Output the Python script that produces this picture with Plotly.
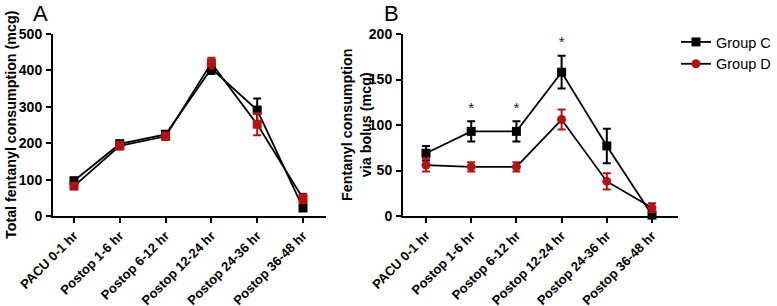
import plotly.graph_objects as go

categories = ["PACU 0-1 hr", "Postop 1-6 hr", "Postop 6-12 hr", "Postop 12-24 hr", "Postop 24-36 hr", "Postop 36-48 hr"]

# Panel A: total fentanyl consumption (mcg)
a_c_mean = [97, 198, 224, 405, 291, 22]
a_c_err = [6, 10, 10, 15, 32, 5]
a_d_mean = [82, 193, 219, 420, 252, 48]
a_d_err = [6, 10, 10, 15, 30, 13]

# Panel B: fentanyl consumption via bolus (mcg)
b_c_mean = [69, 93, 93, 158, 77, 1]
b_c_err = [8, 11, 11, 18, 19, 2]
b_d_mean = [56, 54, 54, 106, 38, 9]
b_d_err = [7, 5, 5, 11, 9, 5]

star_x = [1, 2, 3]
star_y = [117, 117, 190]

a_yticks = [0, 100, 200, 300, 400, 500]
b_yticks = [0, 50, 100, 150, 200]

BLACK = "#000000"
RED = "#b21414"
FONT = "Liberation Sans, Arial, sans-serif"
xs = list(range(len(categories)))

fig = go.Figure()

def add(xa, ya, y, err, color, symbol, name, show):
    fig.add_trace(go.Scatter(
        x=xs, y=y, xaxis=xa, yaxis=ya, mode="lines+markers", name=name,
        showlegend=show, cliponaxis=False,
        line=dict(color=BLACK, width=1.8),
        marker=dict(color=color, symbol=symbol, size=9, line=dict(width=0)),
        error_y=dict(type="data", array=err, color=color, thickness=2, width=4),
    ))

add("x", "y", a_c_mean, a_c_err, BLACK, "square", "Group C", False)
add("x", "y", a_d_mean, a_d_err, RED, "square", "Group D", False)
add("x2", "y2", b_c_mean, b_c_err, BLACK, "square", "Group C", True)
add("x2", "y2", b_d_mean, b_d_err, RED, "circle", "Group D", True)

fig.add_trace(go.Scatter(
    x=star_x, y=star_y, xaxis="x2", yaxis="y2", mode="text", text=["*"] * len(star_x),
    textfont=dict(family=FONT, size=15, color="#222222"), showlegend=False, cliponaxis=False,
))

tickfont = dict(family=FONT, size=13, color=BLACK, weight="bold")
common_x = dict(
    tickvals=xs, ticktext=categories, tickangle=-45, showline=True, linewidth=2, linecolor=BLACK,
    ticks="outside", ticklen=5, tickwidth=2, tickcolor=BLACK, showgrid=False, zeroline=False,
    tickfont=tickfont, automargin=False,
)
common_y = dict(
    showline=True, linewidth=2, linecolor=BLACK, ticks="outside", ticklen=5, tickwidth=2,
    tickcolor=BLACK, showgrid=False, zeroline=False, tickfont=dict(family=FONT, size=14, color=BLACK, weight="bold"),
    ticklabelstandoff=1, automargin=False,
)

TITLE_FONT = dict(family=FONT, size=14.3, color=BLACK, weight="bold")
ydom = [(306 - 216) / 306, (306 - 34) / 306]
fig.update_layout(
    width=777, height=306, margin=dict(l=0, r=0, t=0, b=0, autoexpand=False),
    paper_bgcolor="white", plot_bgcolor="white",
    xaxis=dict(domain=[53 / 777, 326 / 777], range=[-0.4585, 5.502], anchor="y", **common_x),
    yaxis=dict(domain=ydom, range=[0, 500], tickvals=a_yticks, anchor="x", **common_y),
    xaxis2=dict(domain=[403 / 777, 678 / 777], range=[-0.509, 5.575], anchor="y2", **common_x),
    yaxis2=dict(domain=ydom, range=[0, 200], tickvals=b_yticks, anchor="x2", **common_y),
    legend=dict(x=676 / 777, y=(306 - 26) / 306, xanchor="left", yanchor="top",
                font=dict(family=FONT, size=14.5, color=BLACK), itemwidth=30,
                bgcolor="rgba(0,0,0,0)", tracegroupgap=0),
    showlegend=True,
    annotations=[
        dict(text="A", x=31 / 777, y=1 + 1 / 306, xref="paper", yref="paper", xanchor="left", yanchor="top",
             showarrow=False, font=dict(family=FONT, size=22, color=BLACK)),
        dict(text="B", x=382 / 777, y=1 + 1 / 306, xref="paper", yref="paper", xanchor="left", yanchor="top",
             showarrow=False, font=dict(family=FONT, size=22, color=BLACK)),
        dict(text="Total fentanyl consumption (mcg)", x=11 / 777, y=(306 - 125) / 306, xref="paper", yref="paper",
             xanchor="center", yanchor="middle", textangle=-90, showarrow=False, font=TITLE_FONT),
        dict(text="Fentanyl consumption<br>via bolus (mcg)", x=356 / 777, y=(306 - 125) / 306, xref="paper", yref="paper",
             xanchor="center", yanchor="middle", textangle=-90, showarrow=False, font=TITLE_FONT),
    ],
)

fig.write_html("out.html", config={"displayModeBar": False},
               post_script="document.body.style.margin='0px';document.body.style.overflow='hidden';")
